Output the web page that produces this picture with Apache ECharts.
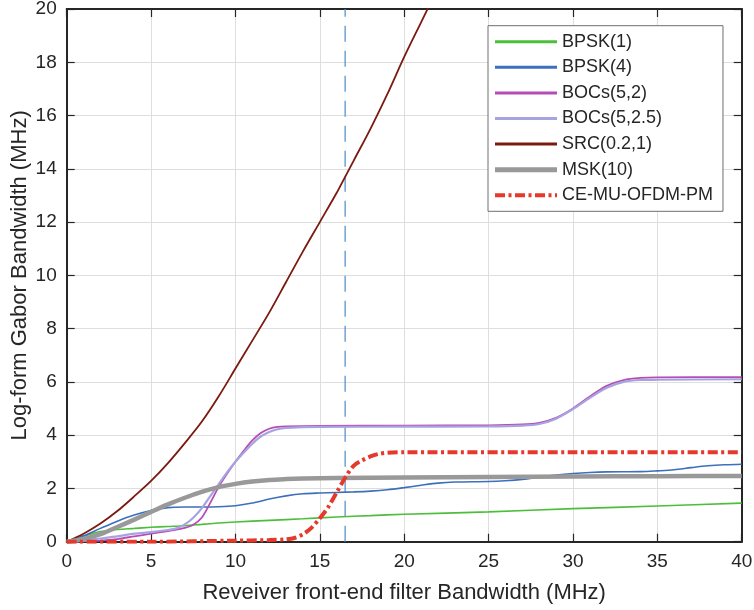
<!DOCTYPE html>
<html>
<head>
<meta charset="utf-8">
<title>Log-form Gabor Bandwidth</title>
<script src="https://cdn.jsdelivr.net/npm/echarts@6/dist/echarts.min.js"></script>
<style>
  html, body { margin: 0; padding: 0; background: #ffffff; }
  #chart { width: 754px; height: 610px; }
</style>
</head>
<body>
<div id="chart"></div>
<script>
// Filter bandwidth sample points (MHz) and Gabor bandwidth values (MHz) per signal
const bpsk1X = [0, 0.5, 1, 1.5, 2, 3, 4, 5, 6, 7, 8, 9, 10, 12, 14, 16, 18, 20, 25, 30, 35, 40];
const bpsk1Y = [0, 0.08, 0.2, 0.3, 0.38, 0.46, 0.5, 0.54, 0.57, 0.6, 0.65, 0.7, 0.74, 0.8, 0.86, 0.93, 0.98, 1.03, 1.12, 1.24, 1.34, 1.45];

const bpsk4X = [0, 1, 2, 3, 4, 5, 6, 7, 8, 9, 10, 11, 12, 13, 14, 15, 16, 17, 18, 19, 20, 21, 22, 23, 25, 26, 27, 28, 29, 30, 31, 32, 34, 35, 36, 37, 38, 39, 40];
const bpsk4Y = [0, 0.22, 0.5, 0.77, 1.0, 1.17, 1.28, 1.3, 1.3, 1.31, 1.35, 1.45, 1.6, 1.72, 1.8, 1.83, 1.85, 1.87, 1.9, 1.95, 2.03, 2.12, 2.2, 2.24, 2.26, 2.29, 2.34, 2.42, 2.5, 2.56, 2.6, 2.62, 2.63, 2.66, 2.7, 2.78, 2.85, 2.89, 2.91];

const boc52X = [0, 1, 2, 3, 4, 5, 6, 6.5, 7, 7.5, 8, 8.5, 9, 9.5, 10, 10.5, 11, 11.5, 12, 12.5, 13, 15, 20, 25, 27, 28, 29, 30, 31, 32, 33, 34, 35, 40];
const boc52Y = [0, 0.01, 0.04, 0.1, 0.2, 0.3, 0.4, 0.45, 0.52, 0.64, 0.9, 1.45, 2.05, 2.55, 3.0, 3.42, 3.8, 4.08, 4.24, 4.31, 4.33, 4.35, 4.36, 4.37, 4.4, 4.46, 4.65, 5.0, 5.45, 5.85, 6.07, 6.15, 6.17, 6.18];

const boc525X = [0, 1, 2, 3, 4, 5, 6, 6.5, 7, 7.5, 8, 8.5, 9, 9.5, 10, 10.5, 11, 11.5, 12, 12.5, 13, 14, 15, 20, 25, 27, 28, 29, 30, 31, 32, 33, 34, 35, 40];
const boc525Y = [0, 0.04, 0.12, 0.2, 0.3, 0.36, 0.44, 0.5, 0.65, 0.9, 1.25, 1.7, 2.15, 2.6, 3.0, 3.35, 3.68, 3.95, 4.12, 4.22, 4.27, 4.3, 4.31, 4.32, 4.33, 4.36, 4.42, 4.62, 4.98, 5.4, 5.78, 6.0, 6.07, 6.08, 6.1];

const srcX = [0, 1, 2, 3, 4, 5, 6, 7, 8, 9, 10, 11, 12, 13, 14, 15, 16, 16.5, 17, 18, 19, 20, 21, 22];
const srcY = [0, 0.3, 0.68, 1.15, 1.7, 2.28, 2.95, 3.7, 4.5, 5.45, 6.5, 7.55, 8.6, 9.75, 10.9, 12.0, 13.1, 13.7, 14.3, 15.5, 16.8, 18.2, 19.5, 20.8];

const mskX = [0, 1, 2, 3, 4, 5, 6, 7, 8, 9, 10, 11, 12, 13, 14, 16, 20, 25, 30, 35, 40];
const mskY = [0, 0.1, 0.28, 0.55, 0.83, 1.12, 1.4, 1.65, 1.87, 2.05, 2.17, 2.26, 2.32, 2.35, 2.37, 2.39, 2.41, 2.43, 2.45, 2.46, 2.47];

const ofdmX = [0, 5, 10, 12, 13, 13.5, 14, 14.5, 15, 15.5, 16, 16.5, 17, 17.5, 18, 18.5, 19, 20, 30, 40];
const ofdmY = [0, 0, 0.04, 0.06, 0.09, 0.14, 0.28, 0.52, 0.88, 1.3, 1.85, 2.4, 2.85, 3.05, 3.2, 3.3, 3.34, 3.36, 3.36, 3.36];

// Vertical reference line at the selected front-end bandwidth
const cutoffX = [16.5, 16.5];
const cutoffY = [0, 20];

const seriesNames = ['BPSK(1)', 'BPSK(4)', 'BOCs(5,2)', 'BOCs(5,2.5)', 'SRC(0.2,1)', 'MSK(10)', 'CE-MU-OFDM-PM'];
const xTicks = [0, 5, 10, 15, 20, 25, 30, 35, 40];
const yTicks = [0, 2, 4, 6, 8, 10, 12, 14, 16, 18, 20];

const pairs = (xs, ys) => xs.map((x, i) => [x, ys[i]]);

const FONT = '"Liberation Sans", Arial, Helvetica, sans-serif';
const INK = '#262626';
const dashDot = [10, 3.5, 3, 3.5];

const styles = [
  { color: '#4dbe3c', width: 1.6 },
  { color: '#3c6fbd', width: 1.6 },
  { color: '#b64db6', width: 1.8 },
  { color: '#a7a3e0', width: 2.2 },
  { color: '#7a1a10', width: 1.8 },
  { color: '#999999', width: 4.5 },
  { color: '#e53a2b', width: 4, type: dashDot }
];
const legendWidths = [3, 3, 3, 3, 3, 5, 4];
const datasets = [
  pairs(bpsk1X, bpsk1Y), pairs(bpsk4X, bpsk4Y), pairs(boc52X, boc52Y),
  pairs(boc525X, boc525Y), pairs(srcX, srcY), pairs(mskX, mskY), pairs(ofdmX, ofdmY)
];

const chart = echarts.init(document.getElementById('chart'), null, { renderer: 'canvas' });

const baseAxis = {
  type: 'value',
  axisLine: { show: true, onZero: false, lineStyle: { color: INK, width: 2 } },
  axisTick: { show: true, inside: true, length: 8, lineStyle: { color: INK, width: 1.2 } },
  splitLine: { show: false },
  axisLabel: { show: false }
};

const series = [{
  name: 'cutoff',
  type: 'line',
  data: pairs(cutoffX, cutoffY),
  showSymbol: false,
  symbol: 'none',
  silent: true,
  lineStyle: { color: '#5b93cc', width: 1.3, type: [16, 9] },
  z: 1
}];
seriesNames.forEach((name, i) => {
  series.push({
    name: name,
    type: 'line',
    data: datasets[i],
    smooth: 0.3,
    symbol: 'none',
    showSymbol: false,
    clip: true,
    lineStyle: { color: styles[i].color, width: styles[i].width, type: styles[i].type || 'solid', cap: 'butt' },
    itemStyle: { color: styles[i].color },
    z: 2 + i
  });
});

chart.setOption({
  animation: false,
  backgroundColor: '#ffffff',
  textStyle: { fontFamily: FONT },
  grid: { left: 66.7, right: 12.3, top: 9, bottom: 68.3, containLabel: false, outerBoundsMode: 'none' },
  xAxis: [
    Object.assign({}, baseAxis, {
      position: 'bottom',
      min: 0, max: 40, interval: 5,
      name: 'Reveiver front-end filter Bandwidth (MHz)',
      nameLocation: 'middle',
      nameGap: 40,
      nameMoveOverlap: false,
      nameTextStyle: { fontSize: 22, color: INK, fontFamily: FONT },
      axisLabel: {
        show: true, fontSize: 19, color: INK, fontFamily: FONT, margin: 11,
        customValues: xTicks
      },
      splitLine: { show: true, lineStyle: { color: '#dedede', width: 1 } }
    }),
    Object.assign({}, baseAxis, { position: 'top', min: 0, max: 40, interval: 5 })
  ],
  yAxis: [
    Object.assign({}, baseAxis, {
      position: 'left',
      min: 0, max: 20, interval: 2,
      name: 'Log-form Gabor Bandwidth (MHz)',
      nameLocation: 'middle',
      nameGap: 36,
      nameMoveOverlap: false,
      nameTextStyle: { fontSize: 22, color: INK, fontFamily: FONT },
      axisLabel: {
        show: true, fontSize: 19, color: INK, fontFamily: FONT, margin: 10,
        customValues: yTicks
      },
      splitLine: { show: true, lineStyle: { color: '#dedede', width: 1 } }
    }),
    Object.assign({}, baseAxis, { position: 'right', min: 0, max: 20, interval: 2 })
  ],
  legend: {
    orient: 'vertical',
    left: 488,
    top: 25.7,
    padding: [7, 10, 7, 4.5],
    itemWidth: 62,
    itemHeight: 14,
    itemGap: 7.6,
    backgroundColor: '#ffffff',
    borderColor: '#6e6e6e',
    borderWidth: 1,
    borderRadius: 0,
    textStyle: { fontSize: 18, color: INK, fontFamily: FONT, lineHeight: 18 },
    selectedMode: false,
    data: seriesNames.map((name, i) => ({
      name: name,
      itemStyle: { opacity: 0 },
      lineStyle: { color: styles[i].color, width: legendWidths[i], type: styles[i].type || 'solid', opacity: 1 }
    }))
  },
  series: series
});
</script>
</body>
</html>
